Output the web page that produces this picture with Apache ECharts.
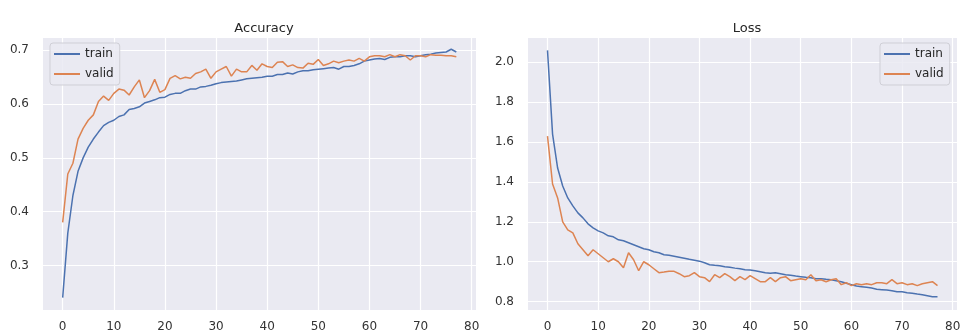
<!DOCTYPE html>
<html>
<head>
<meta charset="utf-8">
<script src="https://cdn.jsdelivr.net/npm/echarts@6/dist/echarts.min.js"></script>
<style>
html,body{margin:0;padding:0;background:#fff;}
#c{width:965px;height:334px;}
</style>
</head>
<body>
<div id="c"></div>
<script>
const epochs = Array.from({length: 78}, (_, i) => i);
const accTrain = [0.24,0.36,0.43,0.475,0.50,0.52,0.535,0.548,0.56,0.566,0.57,0.577,0.58,0.59,0.592,0.595,0.602,0.605,0.608,0.612,0.613,0.618,0.62,0.62,0.625,0.628,0.628,0.632,0.633,0.635,0.638,0.64,0.641,0.642,0.643,0.645,0.647,0.648,0.649,0.65,0.652,0.652,0.655,0.655,0.658,0.656,0.66,0.662,0.662,0.664,0.665,0.666,0.667,0.668,0.665,0.67,0.67,0.672,0.675,0.68,0.682,0.684,0.685,0.683,0.687,0.688,0.688,0.69,0.69,0.688,0.69,0.692,0.693,0.695,0.696,0.697,0.702,0.697];
const accValid = [0.38,0.47,0.49,0.535,0.555,0.57,0.58,0.605,0.615,0.607,0.62,0.628,0.626,0.617,0.632,0.645,0.612,0.625,0.646,0.622,0.627,0.648,0.653,0.647,0.65,0.648,0.657,0.66,0.665,0.648,0.66,0.665,0.67,0.652,0.665,0.66,0.66,0.672,0.663,0.675,0.67,0.668,0.678,0.679,0.67,0.673,0.668,0.667,0.676,0.674,0.683,0.672,0.675,0.68,0.677,0.68,0.682,0.68,0.685,0.68,0.688,0.69,0.69,0.688,0.692,0.688,0.692,0.69,0.682,0.69,0.69,0.688,0.692,0.691,0.691,0.69,0.69,0.688];
const lossTrain = [2.06,1.64,1.47,1.38,1.32,1.28,1.245,1.22,1.19,1.17,1.155,1.145,1.13,1.125,1.11,1.105,1.095,1.085,1.075,1.065,1.06,1.05,1.045,1.035,1.032,1.028,1.023,1.018,1.012,1.008,1.003,0.995,0.985,0.982,0.98,0.975,0.972,0.968,0.965,0.96,0.958,0.955,0.95,0.945,0.942,0.945,0.94,0.935,0.932,0.928,0.925,0.922,0.92,0.915,0.915,0.912,0.91,0.905,0.9,0.892,0.885,0.878,0.875,0.872,0.868,0.862,0.86,0.858,0.855,0.85,0.85,0.845,0.842,0.838,0.835,0.83,0.825,0.825];
const lossValid = [1.63,1.39,1.32,1.20,1.16,1.145,1.09,1.06,1.03,1.06,1.04,1.02,1.0,1.015,1.0,0.97,1.045,1.01,0.955,1.0,0.985,0.965,0.945,0.948,0.952,0.952,0.94,0.925,0.93,0.945,0.925,0.92,0.9,0.935,0.92,0.94,0.925,0.905,0.925,0.91,0.93,0.915,0.9,0.9,0.92,0.9,0.92,0.925,0.905,0.91,0.915,0.91,0.935,0.905,0.91,0.9,0.91,0.915,0.885,0.895,0.88,0.89,0.885,0.89,0.885,0.895,0.895,0.89,0.91,0.89,0.895,0.885,0.89,0.88,0.89,0.895,0.9,0.88];
const xTicks = [0,10,20,30,40,50,60,70,80];
const accTicks = [0.3,0.4,0.5,0.6,0.7];
const lossTicks = [0.8,1.0,1.2,1.4,1.6,1.8,2.0];

const FONT = 'DejaVu Sans';
const BLUE = '#4C72B0', ORANGE = '#DD8452';
const pair = (ys) => ys.map((v, i) => [epochs[i], v]);

function xAxis(gi) {
  return {
    type: 'value', gridIndex: gi, min: -3.85, max: 80.85,
    axisLine: {show: false}, axisTick: {show: false, customValues: xTicks},
    axisLabel: {customValues: xTicks, color: '#333', fontFamily: FONT, fontSize: 12, margin: 11},
    splitLine: {show: true, lineStyle: {color: '#ffffff', width: 1.2}}
  };
}
function yAxis(gi, min, max, ticks) {
  return {
    type: 'value', gridIndex: gi, min: min, max: max,
    axisLine: {show: false}, axisTick: {show: false, customValues: ticks},
    axisLabel: {customValues: ticks, color: '#333', fontFamily: FONT, fontSize: 12, margin: 14,
      formatter: v => v.toFixed(1)},
    splitLine: {show: true, lineStyle: {color: '#ffffff', width: 1.2}}
  };
}
function series(name, gi, data, color) {
  return {
    name: name, type: 'line', xAxisIndex: gi, yAxisIndex: gi, data: pair(data),
    showSymbol: false, symbol: 'none', lineStyle: {color: color, width: 1.5}, itemStyle: {color: color},
    animation: false
  };
}
const legendCommon = {
  orient: 'vertical', data: ['train', 'valid'],
  icon: 'path://M0,0 L26,0 L26,2 L0,2 Z', itemWidth: 26, itemHeight: 2, itemGap: 8,
  textStyle: {color: '#262626', fontFamily: FONT, fontSize: 12},
  backgroundColor: 'rgba(234,234,242,0.85)', borderColor: '#cfcfd6', borderWidth: 1, borderRadius: 3,
  padding: [5, 6, 5, 4]
};

const chart = echarts.init(document.getElementById('c'), null, {renderer: 'canvas'});
chart.setOption({
  backgroundColor: '#ffffff',
  animation: false,
  title: [
    {text: 'Accuracy', left: 259, top: 17, textAlign: 'center', textStyle: {fontFamily: FONT, fontSize: 13, fontWeight: 'normal', color: '#262626'}},
    {text: 'Loss', left: 742, top: 17, textAlign: 'center', textStyle: {fontFamily: FONT, fontSize: 13, fontWeight: 'normal', color: '#262626'}}
  ],
  legend: [
    Object.assign({}, legendCommon, {left: 50, top: 43}),
    Object.assign({}, legendCommon, {left: 880, top: 43})
  ],
  grid: [
    {left: 43, right: 489, top: 38, bottom: 24, show: true, backgroundColor: '#EAEAF2', borderWidth: 0},
    {left: 528, right: 8, top: 38, bottom: 24, show: true, backgroundColor: '#EAEAF2', borderWidth: 0}
  ],
  xAxis: [xAxis(0), xAxis(1)],
  yAxis: [yAxis(0, 0.217, 0.723, accTicks), yAxis(1, 0.758, 2.122, lossTicks)],
  series: [
    series('train', 0, accTrain, BLUE),
    series('valid', 0, accValid, ORANGE),
    series('train', 1, lossTrain, BLUE),
    series('valid', 1, lossValid, ORANGE)
  ]
});
</script>
</body>
</html>
